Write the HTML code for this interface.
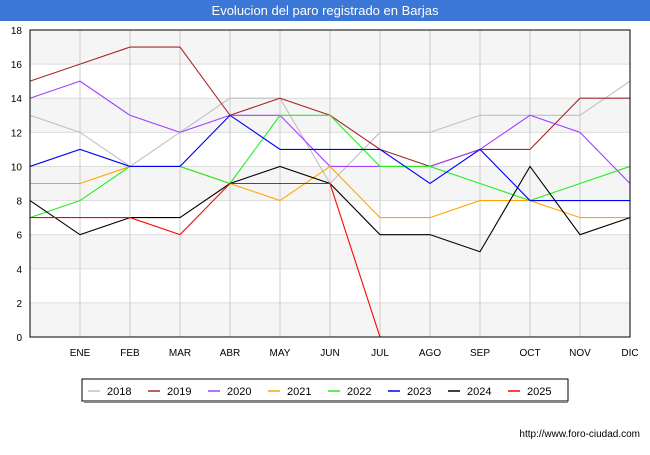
<!DOCTYPE html>
<html><head><meta charset="utf-8"><style>
body{margin:0;width:650px;height:450px;background:#fff;font-family:"Liberation Sans",sans-serif;overflow:hidden}
</style></head><body>
<svg width="650" height="450" xmlns="http://www.w3.org/2000/svg" font-family="Liberation Sans, sans-serif">
<rect x="0" y="0" width="650" height="450" fill="#fff"/>
<rect x="0" y="0" width="650" height="21" fill="#3a77d6"/>
<text x="325" y="15" text-anchor="middle" fill="#fff" font-size="13">Evolucion del paro registrado en Barjas</text>
<g id="grid"></g>
<g id="series"></g>
<rect x="30" y="30" width="600" height="307" fill="none" stroke="#000"/>
<g id="legend"></g>
<text x="640" y="437" text-anchor="end" font-size="10" fill="#000">http://www.foro-ciudad.com</text>
</svg>
<script>
const months=["","ENE","FEB","MAR","ABR","MAY","JUN","JUL","AGO","SEP","OCT","NOV","DIC"];
const yTicks=[0,2,4,6,8,10,12,14,16,18];
const years=["2018","2019","2020","2021","2022","2023","2024","2025"];
const colors=["#c0c0c0","#a52a2a","#a040ff","#ffa500","#22ee22","#0000ff","#000000","#ff0000"];
const s2018=[13,12,10,12,14,14,9,12,12,13,13,13,15];
const s2019=[15,16,17,17,13,14,13,11,10,11,11,14,14];
const s2020=[14,15,13,12,13,13,10,10,10,11,13,12,9];
const s2021=[9,9,10,10,9,8,10,7,7,8,8,7,7];
const s2022=[7,8,10,10,9,13,13,10,10,9,8,9,10];
const s2023=[10,11,10,10,13,11,11,11,9,11,8,8,8];
const s2024=[8,6,7,7,9,10,9,6,6,5,10,6,7];
const s2025=[7,7,7,6,9,9,9,0];
const allSeries=[s2018,s2019,s2020,s2021,s2022,s2023,s2024,s2025];
const NS="http://www.w3.org/2000/svg";
const x=i=>30+i*50;
const y=v=>337-v*(307/18);
function mk(tag,attrs,parent){const e=document.createElementNS(NS,tag);for(const k in attrs)e.setAttribute(k,attrs[k]);parent.appendChild(e);return e;}
const grid=document.getElementById('grid');
for(let i=0;i<yTicks.length-1;i++){
  if(i%2===0){const b=mk('rect',{x:30,y:y(yTicks[i+1]),width:600,height:y(yTicks[i])-y(yTicks[i+1]),fill:'#f5f5f5'},grid);
  
  }
}
yTicks.forEach(t=>{
  const l=mk('line',{x1:30,x2:630,y1:y(t),y2:y(t),stroke:'#dddddd'},grid);
  
  
  const tx=mk('text',{x:22,y:y(t)+4,'text-anchor':'end','font-size':'10',fill:'#000'},grid);
  tx.textContent=t;
  
  
});
months.forEach((m,i)=>{
  const l=mk('line',{x1:x(i),x2:x(i),y1:30,y2:337,stroke:'#cccccc'},grid);
  
  
  if(m){const tx=mk('text',{x:x(i),y:356,'text-anchor':'middle','font-size':'10',fill:'#000'},grid);
  tx.textContent=m;
  
  }
});
const sg=document.getElementById('series');
allSeries.forEach((s,k)=>{
  const p=mk('polyline',{points:s.map((v,i)=>x(i)+','+y(v)).join(' '),fill:'none',stroke:colors[k],'stroke-width':'1.1'},sg);
  
  
});
const lg=document.getElementById('legend');
const box=mk('rect',{x:82,y:379,width:486,height:22,fill:'#fff',stroke:'#000'},lg);


mk('line',{x1:84,x2:568,y1:402,y2:402,stroke:'#888','stroke-width':'2'},lg);
years.forEach((yr,k)=>{
  const bx=88+k*60;
  const l=mk('line',{x1:bx,x2:bx+12,y1:391,y2:391,stroke:colors[k],'stroke-width':'1.5'},lg);
  
  
  const t=mk('text',{x:bx+19,y:395,'font-size':'11',fill:'#000'},lg);
  t.textContent=yr;
  
  
});
</script>
</body></html>
